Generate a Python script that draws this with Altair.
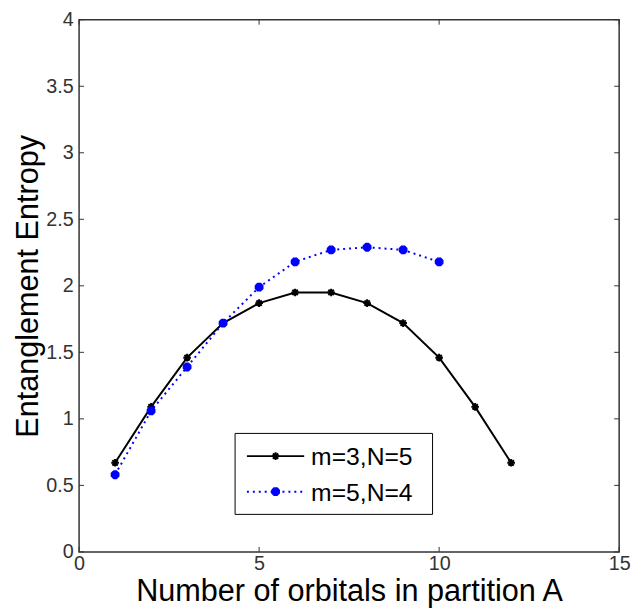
import altair as alt
import pandas as pd

# ---- data ----
x_a = list(range(1, 13))
s_a = [0.67, 1.09, 1.46, 1.72, 1.87, 1.95, 1.95, 1.87, 1.72, 1.46, 1.09, 0.67]
x_b = list(range(1, 11))
s_b = [0.58, 1.06, 1.39, 1.72, 1.99, 2.18, 2.27, 2.29, 2.27, 2.18]
labels = ["m=3,N=5", "m=5,N=4"]
x_ticks = [0, 5, 10, 15]
y_ticks = [0, 0.5, 1, 1.5, 2, 2.5, 3, 3.5, 4]

df_a = pd.DataFrame({"x": x_a, "y": s_a})
df_b = pd.DataFrame({"x": x_b, "y": s_b})
df_leg = pd.DataFrame({"label": labels, "i": [0, 1]})
df_xt = pd.DataFrame({"v": x_ticks})
df_yt = pd.DataFrame({"v": y_ticks})

FONT = "Liberation Sans"
NARROW = "Liberation Sans Narrow, Liberation Sans"
STAR = "M-1,0L1,0M0,-1L0,1M-0.7,-0.7L0.7,0.7M-0.7,0.7L0.7,-0.7"
W, H = 547, 539
TL = 5  # inner tick length

xs = alt.Scale(domain=[0, 15], nice=False, zero=False)
ys = alt.Scale(domain=[0, 4], nice=False, zero=False)

ax_x = alt.Axis(orient="bottom", values=x_ticks, title="Number of orbitals in partition A",
                titleFontSize=31, titleFont=FONT, titleFontWeight="normal", titleColor="black",
                labelFontSize=20, labelFont=NARROW, labelColor="#333", ticks=False, domain=False,
                grid=False, labelPadding=2, titlePadding=3, labelFlush=False)
ax_y = alt.Axis(orient="left", values=y_ticks, format="~g", title="Entanglement Entropy",
                titleFontSize=31, titleFont=FONT, titleFontWeight="normal", titleColor="black",
                labelFontSize=20, labelFont=NARROW, labelColor="#333", ticks=False, domain=False,
                grid=False, labelPadding=6, titlePadding=1, labelFlush=False)

line_a = alt.Chart(df_a).mark_line(color="black", strokeWidth=2).encode(
    x=alt.X("x:Q", scale=xs, axis=ax_x),
    y=alt.Y("y:Q", scale=ys, axis=ax_y),
)
pts_a = alt.Chart(df_a).mark_point(shape=STAR, size=60, color="black", strokeWidth=2, filled=False, opacity=1).encode(
    x=alt.X("x:Q", scale=xs), y=alt.Y("y:Q", scale=ys))
line_b = alt.Chart(df_b).mark_line(color="#0000ff", strokeWidth=2, strokeDash=[2, 4]).encode(
    x=alt.X("x:Q", scale=xs), y=alt.Y("y:Q", scale=ys))
pts_b = alt.Chart(df_b).mark_point(shape=STAR, size=80, color="#0000ff", strokeWidth=3.5, filled=False, opacity=1).encode(
    x=alt.X("x:Q", scale=xs), y=alt.Y("y:Q", scale=ys))

# ---- inner ticks (MATLAB style box axes) ----
tick_style = dict(color="#333", strokeWidth=1)
xt_bot = alt.Chart(df_xt).mark_rule(**tick_style).encode(
    x=alt.X("v:Q", scale=xs), y=alt.value(H), y2=alt.value(H - TL))
xt_top = alt.Chart(df_xt).mark_rule(**tick_style).encode(
    x=alt.X("v:Q", scale=xs), y=alt.value(0), y2=alt.value(TL))
yt_left = alt.Chart(df_yt).mark_rule(**tick_style).encode(
    y=alt.Y("v:Q", scale=ys), x=alt.value(0), x2=alt.value(TL))
yt_right = alt.Chart(df_yt).mark_rule(**tick_style).encode(
    y=alt.Y("v:Q", scale=ys), x=alt.value(W - TL), x2=alt.value(W))

# ---- legend (drawn inside the plot) ----
one = pd.DataFrame({"a": [0]})
leg_box = alt.Chart(one).mark_rect(fill="white", stroke="black", strokeWidth=1).encode(
    x=alt.value(158), x2=alt.value(358), y=alt.value(419), y2=alt.value(501))
leg_line_a = alt.Chart(one).mark_rule(color="black", strokeWidth=2).encode(
    x=alt.value(170), x2=alt.value(228), y=alt.value(442))
leg_pt_a = alt.Chart(one).mark_point(shape=STAR, size=60, color="black", strokeWidth=2, filled=False, opacity=1).encode(
    x=alt.value(199), y=alt.value(442))
leg_line_b = alt.Chart(one).mark_rule(color="#0000ff", strokeWidth=2, strokeDash=[2, 4]).encode(
    x=alt.value(170), x2=alt.value(228), y=alt.value(478))
leg_pt_b = alt.Chart(one).mark_point(shape=STAR, size=80, color="#0000ff", strokeWidth=3.5, filled=False, opacity=1).encode(
    x=alt.value(199), y=alt.value(478))
leg_text_a = alt.Chart(df_leg).transform_filter("datum.i == 0").mark_text(
    align="left", baseline="middle", font=FONT, fontSize=25, color="black").encode(
    x=alt.value(235), y=alt.value(443), text="label:N")
leg_text_b = alt.Chart(df_leg).transform_filter("datum.i == 1").mark_text(
    align="left", baseline="middle", font=FONT, fontSize=25, color="black").encode(
    x=alt.value(235), y=alt.value(479), text="label:N")

chart = alt.layer(
    line_a, pts_a, line_b, pts_b,
    xt_bot, xt_top, yt_left, yt_right,
    leg_box, leg_line_a, leg_pt_a, leg_line_b, leg_pt_b, leg_text_a, leg_text_b,
).properties(
    width=W, height=H,
    autosize=alt.AutoSizeParams(type="none"),
    padding={"left": 72, "top": 8, "right": 12, "bottom": 58},
    background="white",
).configure_view(stroke="#333", strokeWidth=1.5)

chart.save("out.html", embed_options={"renderer": "svg", "actions": False})
